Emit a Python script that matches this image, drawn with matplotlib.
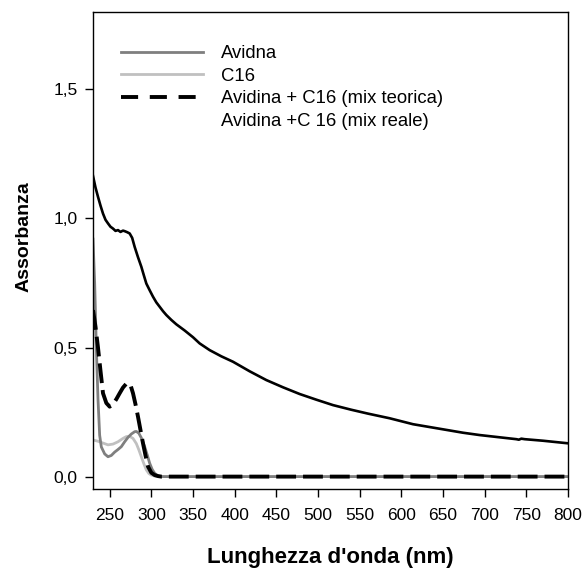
import matplotlib
matplotlib.use("Agg")
import matplotlib.pyplot as plt
from matplotlib.lines import Line2D
import numpy as np

plt.rcParams["font.family"] = ["Liberation Sans", "DejaVu Sans"]

# spectra (wavelength nm, absorbance)
wl_reale = [230, 233, 236, 239, 242, 245, 248, 251, 254, 257, 260, 263, 266, 268, 271, 274, 277,
            280, 284, 288, 291, 294, 298, 302, 306, 310, 314, 318, 324, 330, 340, 350, 358, 370,
            384, 398, 418, 438, 458, 478, 498, 518, 540, 560, 586, 614, 634, 654, 674, 694, 716,
            738, 741, 744, 748, 770, 800]
abs_reale = [1.165, 1.12, 1.084, 1.05, 1.019, 0.995, 0.981, 0.968, 0.961, 0.952, 0.955, 0.948,
             0.953, 0.951, 0.947, 0.942, 0.925, 0.89, 0.85, 0.813, 0.78, 0.748, 0.722, 0.697,
             0.675, 0.658, 0.641, 0.626, 0.607, 0.59, 0.566, 0.54, 0.516, 0.49, 0.466, 0.445,
             0.408, 0.374, 0.346, 0.32, 0.298, 0.277, 0.259, 0.244, 0.226, 0.203, 0.192, 0.181,
             0.17, 0.161, 0.153, 0.145, 0.143, 0.147, 0.145, 0.139, 0.129]

wl_avidna = [230, 232, 234, 236, 238, 240, 244, 248, 252, 256, 260, 264, 268, 272, 276, 280, 282,
             285, 288, 292, 295, 298, 301, 304, 307, 310, 315, 400, 500, 600, 700, 800]
abs_avidna = [0.92, 0.75, 0.5, 0.3, 0.16, 0.115, 0.088, 0.077, 0.082, 0.095, 0.105, 0.116, 0.135,
              0.152, 0.165, 0.174, 0.175, 0.168, 0.15, 0.116, 0.085, 0.052, 0.028, 0.013, 0.005,
              0.001, 0.0, 0.0, 0.0, 0.0, 0.0, 0.0]

wl_c16 = [230, 236, 242, 248, 254, 260, 266, 270, 274, 278, 282, 285, 288, 291, 294, 297, 300, 304,
          310, 400, 500, 600, 700, 800]
abs_c16 = [0.142, 0.137, 0.13, 0.123, 0.126, 0.135, 0.148, 0.155, 0.156, 0.148, 0.128, 0.104,
           0.077, 0.05, 0.026, 0.012, 0.006, 0.002, 0.0, 0.0, 0.0, 0.0, 0.0, 0.0]

wl_teorica = [230, 233, 236, 239, 242, 246, 250, 254, 258, 262, 266, 270, 272, 275, 278, 281, 284,
              287, 290, 293, 296, 300, 304, 308, 312, 400, 500, 600, 700, 800]
abs_teorica = [0.645, 0.58, 0.5, 0.41, 0.323, 0.285, 0.271, 0.28, 0.3, 0.323, 0.345, 0.36, 0.362,
               0.355, 0.323, 0.28, 0.232, 0.18, 0.129, 0.082, 0.039, 0.015, 0.006, 0.002, 0.0,
               0.0, 0.0, 0.0, 0.0, 0.0]

labels = ["Avidna", "C16", "Avidina + C16 (mix teorica)", "Avidina +C 16 (mix reale)"]
x_ticks = list(range(250, 801, 50))
y_ticks = [0.0, 0.5, 1.0, 1.5]
y_tick_labels = ["0,0", "0,5", "1,0", "1,5"]

fig = plt.figure(figsize=(5.86, 5.69), dpi=100)
ax = fig.add_axes([0.1587, 0.1406, 0.8106, 0.8383])

ax.plot(wl_c16, abs_c16, color="#c0c0c0", lw=2.0)
ax.plot(wl_avidna, abs_avidna, color="#7f7f7f", lw=2.0)
ax.plot(wl_teorica, abs_teorica, color="black", lw=2.8, dashes=(5.1, 1.8))
ax.plot(wl_reale, abs_reale, color="black", lw=1.9)

ax.set_xlim(230, 800)
ax.set_ylim(-0.048, 1.8)
ax.set_xticks(x_ticks)
ax.set_yticks(y_ticks)
ax.set_yticklabels(y_tick_labels)
ax.tick_params(axis="x", labelsize=12.5, length=6, width=1, pad=8, direction="out")
ax.tick_params(axis="y", labelsize=12.5, length=6, width=1, pad=5, direction="out")
for sp in ax.spines.values():
    sp.set_linewidth(1.0)

ax.set_xlabel("Lunghezza d'onda (nm)", fontsize=16, fontweight="bold")
ax.set_ylabel("Assorbanza", fontsize=14, fontweight="bold")
ax.xaxis.set_label_coords(0.5, -0.122)
ax.yaxis.set_label_coords(-0.127, 0.53)

handles = [Line2D([], [], color="#7f7f7f", lw=2.0),
           Line2D([], [], color="#c0c0c0", lw=2.0),
           Line2D([], [], color="black", lw=2.8, dashes=(4.4, 3)),
           Line2D([], [], color="none")]
ax.legend(handles, labels, loc="upper left", bbox_to_anchor=(0.06, 0.93), frameon=False,
          fontsize=13.3, handlelength=4.4, handletextpad=1.0, labelspacing=0.3,
          borderaxespad=0, borderpad=0)

fig.savefig("out.png", dpi=100)
